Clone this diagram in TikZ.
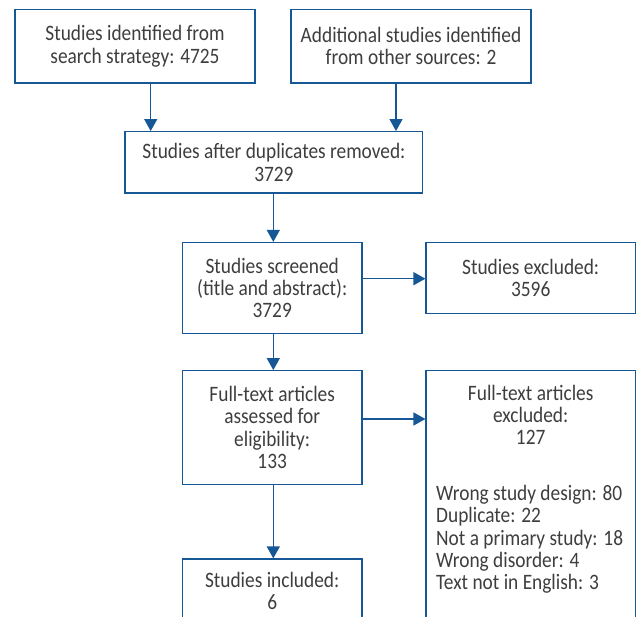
\documentclass[tikz,border=0pt]{standalone}
\usepackage{fontspec}
\setmainfont{Carlito}[FakeStretch=0.88]
\usetikzlibrary{arrows.meta}
\definecolor{lineblue}{RGB}{22,88,150}
\definecolor{txt}{RGB}{62,62,62}
\begin{document}
\begin{tikzpicture}[x=1pt,y=-1pt,
  box/.style={draw=lineblue, line width=1.2pt, rectangle, inner sep=0pt, align=center, text=txt, font=\fontsize{22}{22.3}\selectfont},
  lbl/.style={inner sep=0pt, text=txt, font=\fontsize{22}{22.3}\selectfont},
  arr/.style={draw=lineblue, line width=1.3pt, -{Triangle[width=13pt,length=12pt]}}
]
\useasboundingbox (0,0) rectangle (636,617);
\clip (0,0) rectangle (636,617);
\fill[white] (0,0) rectangle (636,617);

\node[box, minimum width=240pt, minimum height=73.7pt] (b1) at (135,46.2) {Studies identified from\\search strategy: 4725};
\node[box, minimum width=240pt, minimum height=73.7pt] (b2) at (411,46.2) {Additional studies identified\\from other sources: 2};
\node[box, minimum width=297.7pt, minimum height=61.3pt] (b3) at (273.9,162.3) {Studies after duplicates removed:\\3729};
\node[box, minimum width=179.7pt, minimum height=90.8pt] (b4) at (272.2,287.9) {Studies screened\\(title and abstract):\\3729};
\node[box, minimum width=209.3pt, minimum height=71.2pt] (b5) at (530.7,278.1) {Studies excluded:\\3596};
\node[box, minimum width=179.7pt, minimum height=113.6pt] (b6) at (272.2,427.5) {Full-text articles\\assessed for\\eligibility:\\133};
\node[box, minimum width=209.3pt, minimum height=289.3pt] (b7) at (530.7,515.4) {};
\node[box, minimum width=179.7pt, minimum height=101pt] (b8) at (272.2,609.5) {};

\node[lbl, align=center] (t7a) at (530.7,415) {Full-text articles\\excluded:\\127};
\node[lbl, align=left, anchor=west] (t7b) at (436,539.5) {Wrong study design: 80\\Duplicate: 22\\Not a primary study: 18\\Wrong disorder: 4\\Text not in English: 3};
\node[lbl, align=center] (t8) at (272.2,591) {Studies included:\\6};

\coordinate (c1) at (150.7,0);
\coordinate (c2) at (396,0);
\coordinate (c3) at (273.3,0);
\coordinate (r1) at (0,278.7);
\coordinate (r2) at (0,419);

\draw[arr] (b1.south -| c1) -- (b3.north -| c1);
\draw[arr] (b2.south -| c2) -- (b3.north -| c2);
\draw[arr] (b3.south -| c3) -- (b4.north -| c3);
\draw[arr] (b4.south -| c3) -- (b6.north -| c3);
\draw[arr] (b6.south -| c3) -- (b8.north -| c3);
\draw[arr] (b4.east |- r1) -- (b5.west |- r1);
\draw[arr] (b6.east |- r2) -- (b7.west |- r2);
\end{tikzpicture}
\end{document}
